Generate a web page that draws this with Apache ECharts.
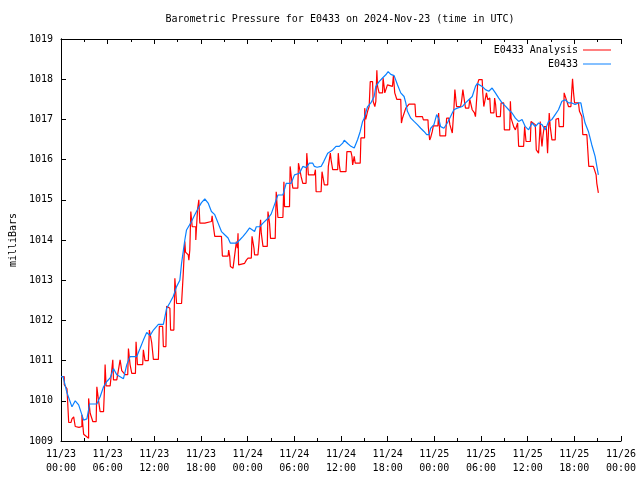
<!DOCTYPE html>
<html>
<head>
<meta charset="utf-8">
<script src="https://cdn.jsdelivr.net/npm/echarts@6/dist/echarts.min.js"></script>
<style>html,body{margin:0;padding:0;background:#fff}#c{width:640px;height:480px}</style>
</head>
<body>
<div id="c"></div>
<script>
// Hours since 2024-11-23 00:00 UTC
var xTickLabels = ['11/23\n00:00','11/23\n06:00','11/23\n12:00','11/23\n18:00','11/24\n00:00','11/24\n06:00','11/24\n12:00','11/24\n18:00','11/25\n00:00','11/25\n06:00','11/25\n12:00','11/25\n18:00','11/26\n00:00'];
var yTickLabels = [1009,1010,1011,1012,1013,1014,1015,1016,1017,1018,1019];

var analysisHours = [0,0.42,0.42,0.77,0.99,0.99,1.28,1.41,1.63,1.83,2.31,2.69,2.69,2.91,3.55,3.55,3.75,4.1,4.52,4.61,4.83,5.03,5.47,5.6,5.67,5.8,6.32,6.44,6.66,6.75,7.17,7.6,7.81,8.24,8.58,8.67,8.88,9.1,9.57,9.65,9.83,10.5,10.59,10.8,11.23,11.36,11.66,11.88,12.52,12.64,13.07,13.16,13.49,13.58,14.0,14.09,14.51,14.64,14.86,15.5,15.72,15.92,16.01,16.36,16.44,16.56,16.69,16.87,17.33,17.33,17.55,17.55,17.72,17.85,18.49,18.61,19.34,19.43,19.56,19.77,19.77,20.63,20.75,21.48,21.56,21.69,21.78,22.12,22.33,22.55,22.68,22.76,22.84,23.61,23.83,24.05,24.47,24.56,24.81,24.89,25.32,25.45,25.66,25.75,25.97,26.52,26.61,26.81,26.94,27.54,27.67,27.89,28.53,28.66,28.74,29.38,29.46,29.68,29.81,30.45,30.53,30.78,30.87,31.09,31.51,31.6,31.81,32.58,32.71,32.8,33.44,33.56,33.86,34.29,34.37,34.63,34.72,34.93,35.57,35.65,35.78,35.91,36.64,36.76,37.28,37.41,37.5,37.7,37.83,38.47,38.56,39.03,39.05,39.18,39.42,39.62,39.76,40.06,40.13,40.35,40.48,40.61,40.7,40.9,41.34,41.41,41.54,41.63,41.88,41.97,42.61,42.74,42.91,43.17,43.68,43.77,43.9,44.11,44.33,44.75,45.51,45.61,46.47,46.59,47.18,47.23,47.4,47.53,47.74,47.87,48.46,48.55,48.72,49.45,49.58,49.87,50.0,50.31,50.43,50.51,50.64,50.86,51.37,51.5,51.67,51.88,52.01,52.43,52.56,52.87,53.16,53.29,53.51,53.58,53.72,54.15,54.23,54.36,54.57,54.7,54.87,55.13,55.24,55.66,55.75,55.88,56.0,56.49,56.58,56.92,57.0,57.69,57.78,57.87,58.12,58.2,58.42,58.63,58.71,58.84,59.48,59.61,59.79,60.34,60.43,60.98,61.11,61.4,61.53,61.62,61.71,61.84,61.97,62.13,62.39,62.56,62.68,62.77,62.9,63.12,63.54,63.63,63.76,63.96,64.05,64.6,64.69,64.82,65.04,65.25,65.56,65.68,65.77,65.9,66.03,66.53,66.66,66.84,66.97,67.09,67.61,67.73,67.86,68.03,68.45,68.67,68.8,68.89,69.09];
var analysisValues = [1010.6,1010.6,1010.4,1010.3,1010.3,1009.46,1009.46,1009.55,1009.6,1009.36,1009.34,1009.36,1009.65,1009.17,1009.07,1010.06,1009.69,1009.48,1009.48,1010.35,1010.0,1009.73,1009.73,1010.35,1010.9,1010.37,1010.37,1010.4,1011.02,1010.52,1010.52,1011.02,1010.75,1010.65,1010.65,1011.3,1010.9,1010.68,1010.68,1011.47,1010.9,1010.9,1011.27,1011.0,1011.0,1011.76,1011.45,1011.03,1011.03,1011.85,1011.85,1011.35,1011.35,1012.35,1012.3,1011.76,1011.76,1013.05,1012.42,1012.42,1013.17,1013.96,1013.7,1013.63,1013.5,1013.75,1014.71,1014.33,1014.33,1014.0,1014.0,1014.75,1015.0,1014.42,1014.42,1014.46,1014.46,1014.6,1014.38,1014.38,1014.09,1014.09,1013.6,1013.6,1013.75,1013.6,1013.34,1013.3,1013.26,1013.96,1013.8,1014.17,1013.38,1013.42,1013.5,1013.55,1013.55,1014.09,1013.8,1013.63,1013.63,1013.92,1014.5,1014.17,1013.84,1013.84,1014.71,1014.42,1014.04,1014.04,1015.2,1014.56,1014.56,1015.45,1014.83,1014.83,1015.83,1015.45,1015.29,1015.29,1015.91,1015.91,1015.58,1015.41,1015.41,1016.16,1015.62,1015.62,1015.75,1015.2,1015.2,1015.7,1015.37,1015.37,1015.83,1016.16,1016.0,1015.75,1015.75,1016.16,1015.87,1015.7,1015.7,1016.2,1016.2,1016.08,1015.87,1016.08,1015.91,1015.91,1016.54,1016.54,1017.28,1017.0,1017.2,1017.32,1017.94,1017.94,1017.45,1017.32,1017.45,1018.22,1017.82,1017.66,1017.66,1018.03,1017.82,1017.66,1017.66,1017.86,1017.82,1018.09,1017.66,1017.5,1017.5,1016.91,1017.03,1017.03,1017.28,1017.38,1017.38,1017.07,1017.07,1016.99,1016.99,1016.8,1016.49,1016.55,1016.7,1016.84,1016.84,1017.16,1016.59,1016.59,1017.03,1017.03,1016.87,1016.66,1016.66,1017.24,1017.74,1017.32,1017.32,1017.45,1017.74,1017.45,1017.28,1017.28,1017.5,1017.24,1017.16,1017.07,1017.07,1017.9,1017.99,1017.99,1017.66,1017.32,1017.32,1017.66,1017.49,1017.53,1017.16,1017.16,1017.53,1017.37,1017.07,1017.07,1017.41,1017.41,1016.74,1016.74,1017.45,1017.03,1017.03,1016.82,1016.74,1016.74,1016.91,1016.33,1016.33,1016.82,1016.45,1016.45,1016.95,1016.87,1016.24,1016.16,1016.6,1016.95,1016.6,1016.33,1016.6,1016.82,1016.82,1016.16,1016.16,1017.16,1016.82,1016.49,1016.49,1017.0,1017.03,1017.03,1016.82,1016.82,1017.66,1017.66,1017.45,1017.32,1017.32,1017.74,1018.01,1017.66,1017.41,1017.41,1017.2,1017.2,1017.07,1016.62,1016.62,1016.24,1015.83,1015.79,1015.83,1015.83,1015.62,1015.41,1015.17];

var stationHours = [0,0.26,0.77,0.99,1.41,1.83,2.27,2.47,2.91,3.33,3.68,4.61,5.03,5.47,5.89,6.32,6.75,7.17,7.6,8.03,8.46,8.88,9.74,10.16,10.59,11.02,11.44,11.88,12.52,13.16,13.58,14.0,14.44,14.86,15.28,15.5,15.92,16.14,16.78,17.2,17.64,18.06,18.49,18.92,19.34,19.77,20.2,20.63,21.05,21.48,21.78,22.55,22.97,23.41,23.83,24.25,24.47,24.89,25.11,25.53,25.97,26.61,27.03,27.45,27.89,28.53,28.95,29.59,30.02,30.66,31.09,31.51,31.94,32.37,32.58,32.92,33.44,33.78,34.29,34.93,35.36,35.78,36.22,36.42,36.86,37.28,37.7,38.14,38.47,38.78,38.98,39.42,39.84,40.26,40.48,40.9,41.34,41.76,42.06,42.4,42.83,43.26,43.68,44.11,44.33,44.54,44.97,45.39,45.82,46.25,46.67,47.02,47.31,47.53,47.95,48.3,48.59,48.81,49.23,49.67,50.09,50.51,50.95,51.59,52.01,52.43,52.87,53.29,53.51,53.72,54.15,54.57,55.0,55.43,55.85,56.28,56.71,57.14,57.56,57.99,58.42,58.84,59.28,59.7,60.12,60.56,60.98,61.4,61.84,62.26,62.68,63.12,63.54,63.96,64.4,64.82,65.25,65.68,66.1,66.53,66.84,67.09,67.38,67.81,68.24,68.67,69.09];
var stationValues = [1010.6,1010.6,1010.2,1010.2,1009.85,1010.0,1009.9,1009.9,1009.52,1009.55,1009.92,1009.92,1010.1,1010.35,1010.48,1010.57,1010.8,1010.65,1010.6,1010.55,1010.9,1011.1,1011.1,1011.3,1011.51,1011.7,1011.62,1011.76,1011.9,1011.9,1012.3,1012.44,1012.6,1012.84,1013.0,1013.42,1014.0,1014.25,1014.46,1014.63,1014.79,1014.93,1015.02,1014.92,1014.71,1014.63,1014.42,1014.21,1014.13,1014.05,1013.92,1013.92,1014.0,1014.09,1014.19,1014.3,1014.31,1014.21,1014.33,1014.33,1014.42,1014.54,1014.65,1014.88,1015.12,1015.12,1015.41,1015.41,1015.62,1015.66,1015.83,1015.8,1015.91,1015.91,1015.83,1015.81,1015.83,1015.95,1016.16,1016.24,1016.33,1016.33,1016.41,1016.48,1016.4,1016.33,1016.29,1016.5,1016.7,1016.95,1017.03,1017.32,1017.41,1017.57,1017.82,1017.94,1018.03,1018.11,1018.19,1018.12,1018.09,1017.86,1017.66,1017.57,1017.41,1017.2,1017.03,1016.95,1016.87,1016.78,1016.7,1016.62,1016.62,1016.78,1016.87,1017.12,1017.0,1016.82,1016.78,1016.91,1017.07,1017.24,1017.28,1017.32,1017.41,1017.49,1017.57,1017.82,1017.89,1017.9,1017.82,1017.74,1017.7,1017.78,1017.66,1017.53,1017.41,1017.33,1017.24,1017.16,1017.03,1016.95,1017.0,1016.82,1016.74,1016.91,1016.82,1016.91,1016.87,1016.74,1016.95,1017.0,1017.12,1017.24,1017.45,1017.49,1017.41,1017.41,1017.37,1017.41,1017.41,1017.16,1016.91,1016.7,1016.37,1016.08,1015.62];

function pairs(xs, ys) { return xs.map(function (x, i) { return [x, ys[i]]; }); }

var FONT = 'DejaVu Sans Mono';
var chart = echarts.init(document.getElementById('c'), null, {renderer: 'canvas'});
var xCommon = {
  type: 'value', min: 0, max: 72, interval: 6,
  axisLine: {show: true, lineStyle: {color: '#000', width: 1}},
  axisTick: {show: true, inside: true, length: 5, lineStyle: {color: '#000'}},
  minorTick: {show: true, splitNumber: 2, length: 3, lineStyle: {color: '#000'}},
  splitLine: {show: false}
};
chart.setOption({
  animation: false,
  backgroundColor: '#fff',
  title: {
    text: 'Barometric Pressure for E0433 on 2024-Nov-23 (time in UTC)',
    left: 340, top: 14, textAlign: 'center', padding: 0,
    textStyle: {fontFamily: FONT, fontSize: 10, fontWeight: 'normal', color: '#000'}
  },
  legend: {
    orient: 'vertical', right: 29, top: 44, align: 'right', padding: 0,
    itemWidth: 28, itemHeight: 1, itemGap: 2, icon: 'rect',
    textStyle: {fontFamily: FONT, fontSize: 10, color: '#000', lineHeight: 12},
    data: ['E0433 Analysis', 'E0433']
  },
  grid: {left: 59, right: 19, top: 39, bottom: 39, containLabel: false},
  xAxis: [
    Object.assign({}, xCommon, {
      position: 'bottom',
      axisLabel: {
        margin: 6, fontFamily: FONT, fontSize: 10, color: '#000', lineHeight: 14,
        formatter: function (v) { return xTickLabels[Math.round(v / 6)]; }
      }
    }),
    Object.assign({}, xCommon, {position: 'top', axisLabel: {show: false}})
  ],
  yAxis: [
    {
      type: 'value', min: 1009, max: 1019, interval: 1, position: 'left',
      name: 'milliBars', nameLocation: 'middle', nameGap: 43, nameRotate: 90,
      nameTextStyle: {fontFamily: FONT, fontSize: 10, color: '#000'},
      axisLine: {show: true, lineStyle: {color: '#000', width: 1}},
      axisTick: {show: true, inside: true, length: 5, lineStyle: {color: '#000'}},
      axisLabel: {
        margin: 8, fontFamily: FONT, fontSize: 10, color: '#000',
        formatter: function (v) { var i = Math.round(v - 1009); return String(yTickLabels[i]); }
      },
      splitLine: {show: false}
    },
    {
      type: 'value', min: 1009, max: 1019, interval: 1, position: 'right',
      axisLine: {show: true, lineStyle: {color: '#000', width: 1}},
      axisTick: {show: false}, axisLabel: {show: false}, splitLine: {show: false}
    }
  ],
  series: [
    {
      name: 'E0433 Analysis', type: 'line', xAxisIndex: 0, yAxisIndex: 0,
      data: pairs(analysisHours, analysisValues),
      showSymbol: false, symbol: 'none',
      lineStyle: {color: '#ff0000', width: 1.2}, itemStyle: {color: '#ff0000'}
    },
    {
      name: 'E0433', type: 'line', xAxisIndex: 0, yAxisIndex: 0,
      data: pairs(stationHours, stationValues),
      showSymbol: false, symbol: 'none',
      lineStyle: {color: '#0a80ff', width: 1.2}, itemStyle: {color: '#0a80ff'}
    }
  ]
});
</script>
</body>
</html>
